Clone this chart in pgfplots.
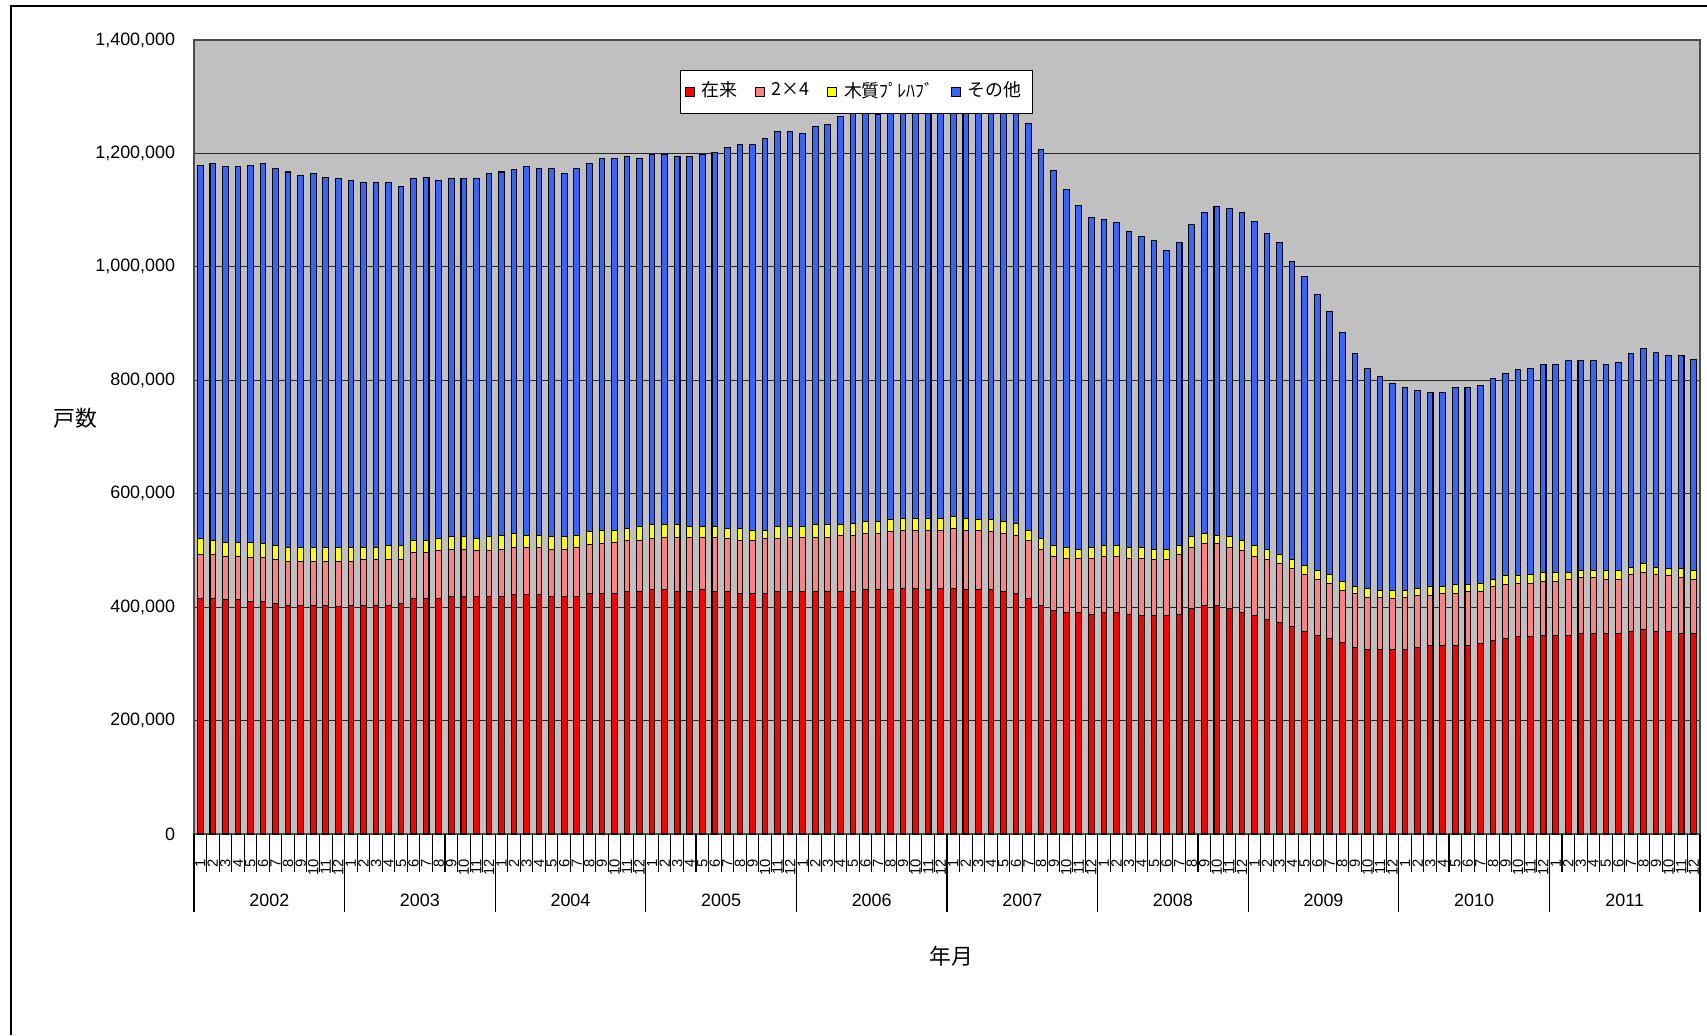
\documentclass[border=0pt]{standalone}
\usepackage{fontspec}
\setmainfont{Liberation Sans}
\newfontfamily\jp{Noto Sans CJK JP}
\usepackage{pgfplots}
\usepackage{pgfplotstable}
\pgfplotsset{compat=1.18}
\definecolor{cRed}{HTML}{FF0000}
\definecolor{cPink}{HTML}{FF8080}
\definecolor{cYel}{HTML}{FFFF00}
\definecolor{cBlue}{HTML}{3366FF}
\definecolor{cBack}{HTML}{C0C0C0}

\pgfplotstableread{
m red pink yellow blue
1 415300 77000 28200 659000
2 415900 76400 25300 664900
3 412900 76400 25300 662000
4 412900 76400 25300 662000
5 409400 78200 27000 664900
6 410000 77000 24700 670800
7 405900 77600 24700 664900
8 403500 77000 24700 662100
9 403500 77000 24700 655600
10 403500 77000 24700 659100
11 403500 77000 24700 652700
12 401200 79400 24700 649800
13 403500 77000 24700 646800
14 403500 80000 21800 643300
15 403500 80000 21800 643300
16 403500 80000 24700 640300
17 405900 77600 24700 633900
18 415900 80500 21200 637400
19 415900 80500 21200 640300
20 415900 84100 20600 631500
21 418800 83500 21800 631000
22 418800 83500 21800 631000
23 418800 81100 20600 634500
24 418800 80500 24700 640300
25 418800 83500 24700 640300
26 421800 83500 24700 640900
27 421800 83500 21800 649600
28 421800 83500 21800 646100
29 418800 83500 21800 649100
30 418800 83500 21800 640300
31 418800 86400 21800 646100
32 424700 86400 21800 649600
33 424700 87000 24100 656000
34 424700 89900 21200 656000
35 427600 89900 21200 656000
36 427600 89900 24700 649500
37 430600 89900 24700 652500
38 430600 92900 21800 652500
39 427600 95800 21800 649500
40 427600 95800 18800 652400
41 430600 92900 18800 655400
42 427600 95800 18800 658900
43 427600 92900 18200 671800
44 424700 92900 21200 677700
45 424700 92900 18200 680600
46 424700 95800 15300 689900
47 427600 92900 21800 695700
48 427600 95800 18800 695700
49 427600 95800 18800 692800
50 427600 95800 21800 702200
51 427600 95800 21800 705100
52 427600 99400 18200 720300
53 427600 99400 21200 723200
54 430600 99400 21200 727300
55 430600 99400 21200 717900
56 430600 102300 21200 717300
57 433500 102300 20600 718500
58 433500 102300 20600 722000
59 430600 105200 20600 724300
60 433500 102300 20600 729600
61 433500 105200 21200 728100
62 430600 105200 21200 723700
63 430600 105200 18200 735000
64 430600 102300 21200 733000
65 427600 101700 21800 720200
66 424700 102300 21200 730300
67 415900 101700 18200 717400
68 402900 99400 18200 686500
69 393500 95800 18800 662000
70 390600 95800 18800 631100
71 390600 95800 15900 606500
72 387700 98800 18800 581900
73 390600 98800 18800 575400
74 390600 98800 18800 569600
75 387700 98800 18800 557400
76 384700 101700 18800 548000
77 384700 98800 18800 544500
78 384700 98800 18800 525800
79 387700 104600 15900 535100
80 397100 108200 18800 550300
81 402900 108800 18200 566600
82 402900 108800 15300 578800
83 397100 108200 18800 578300
84 390600 108800 18200 578900
85 384700 104600 18800 572600
86 378200 105200 18800 556800
87 372400 104600 15900 550400
88 365900 101700 15900 526400
89 356500 101700 15900 508400
90 350600 98200 15900 486800
91 344700 97600 15900 462300
92 338300 91700 15900 437700
93 329400 95200 11800 410400
94 325900 91700 15900 388100
95 325900 91700 12300 376400
96 325900 88800 15300 364200
97 325900 91700 12300 357700
98 329400 91700 12300 347800
99 332400 88800 15300 342000
100 332400 92300 11800 342000
101 332400 92300 14700 348300
102 332400 94700 12300 348300
103 335300 91700 15300 348300
104 341200 95200 12300 354700
105 344700 94700 15900 357500
106 347700 94700 12900 363400
107 347700 94700 15900 363300
108 350600 95200 15300 367000
109 350600 95200 15300 367000
110 350600 98200 12300 373400
111 353600 98200 12900 369800
112 353600 98200 12900 369800
113 353600 95200 15900 363400
114 353600 95200 15900 366300
115 356500 101700 12300 376300
116 360000 101100 15900 378600
117 356500 101700 12300 379200
118 356500 98800 12300 375700
119 353600 98200 15900 375600
120 353600 95200 15900 372700
}\data

\begin{document}
\begin{tikzpicture}
\useasboundingbox (-19.4mm,-20.1mm) rectangle (151.3mm,83.4mm);
\draw[line width=0.4pt] (-18.3mm,-20.1mm) -- (-18.3mm,82.8mm) -- (151.3mm,82.8mm);
\begin{axis}[
  at={(0,0)}, anchor=south west,
  scale only axis, width=150.6mm, height=79.4mm,
  ybar stacked, bar width=0.45,
  xmin=0.5, xmax=120.5, ymin=0, ymax=1400000,
  clip=false,
  axis background/.style={fill=cBack},
  axis line style={black!70, line width=0.5pt},
  ytick={0,200000,400000,600000,800000,1000000,1200000,1400000},
  scaled y ticks=false,
  ymajorgrids, grid style={black!85, line width=0.35pt},
  yticklabel style={font=\fontsize{5.1}{6}\selectfont,
    /pgf/number format/.cd, fixed, precision=0, 1000 sep={,}, assume math mode=true},
  yticklabel shift=0.65mm,
  xtick={1,...,120},
  major tick length=0pt,
  tick align=outside,
  xtick pos=bottom, ytick pos=left,
  xticklabel={\pgfmathtruncatemacro\mm{mod(\tick+11.01,12)+1}\mm},
  xticklabel style={rotate=90, anchor=east, font=\fontsize{4.2}{5}\selectfont},
  xticklabel shift=1.3mm,
  ylabel={\jp 戸数},
  ylabel style={rotate=-90, at={(axis description cs:-0.079,0.524)}, anchor=center, font=\fontsize{6.2}{7}\selectfont},
  xlabel={\jp 年月},
  xlabel style={at={(axis description cs:0.503,-0.154)}, anchor=center, font=\fontsize{6.2}{7}\selectfont},
  legend style={at={(axis description cs:0.44,0.9345)}, anchor=center, legend columns=4,
    draw=black, line width=0.35pt, fill=white, inner sep=0.4mm,
    font=\jp\fontsize{5.1}{6}\selectfont,
    /tikz/every even column/.append style={column sep=1.0mm}},
  legend image code/.code={\draw[#1, draw=black, line width=0.35pt] (0mm,-0.45mm) rectangle (0.9mm,0.45mm);},
]
\addplot[fill=cRed, draw=black, line width=0.3pt] table[x=m, y=red] {\data};
\addplot[fill=cPink, draw=black, line width=0.3pt] table[x=m, y=pink] {\data};
\addplot[fill=cYel, draw=black, line width=0.3pt] table[x=m, y=yellow] {\data};
\addplot[fill=cBlue, draw=black, line width=0.3pt] table[x=m, y=blue] {\data};
\legend{在来, 2×4, 木質ﾌﾟﾚﾊﾌﾞ, その他}
\pgfplotsinvokeforeach{1.5,2.5,...,119.5}{
  \draw[black, line width=0.3pt] (axis cs:#1,0) -- ++(0pt,-3.8mm);
}
\pgfplotsinvokeforeach{0.5,12.5,24.5,36.5,48.5,60.5,72.5,84.5,96.5,108.5,120.5}{
  \draw[black, line width=0.35pt] (axis cs:#1,0) -- ++(0pt,-7.8mm);
}
\node[font=\fontsize{5.1}{6}\selectfont] at ([yshift=-6.6mm]axis cs:6.5,0) {2002};
\node[font=\fontsize{5.1}{6}\selectfont] at ([yshift=-6.6mm]axis cs:18.5,0) {2003};
\node[font=\fontsize{5.1}{6}\selectfont] at ([yshift=-6.6mm]axis cs:30.5,0) {2004};
\node[font=\fontsize{5.1}{6}\selectfont] at ([yshift=-6.6mm]axis cs:42.5,0) {2005};
\node[font=\fontsize{5.1}{6}\selectfont] at ([yshift=-6.6mm]axis cs:54.5,0) {2006};
\node[font=\fontsize{5.1}{6}\selectfont] at ([yshift=-6.6mm]axis cs:66.5,0) {2007};
\node[font=\fontsize{5.1}{6}\selectfont] at ([yshift=-6.6mm]axis cs:78.5,0) {2008};
\node[font=\fontsize{5.1}{6}\selectfont] at ([yshift=-6.6mm]axis cs:90.5,0) {2009};
\node[font=\fontsize{5.1}{6}\selectfont] at ([yshift=-6.6mm]axis cs:102.5,0) {2010};
\node[font=\fontsize{5.1}{6}\selectfont] at ([yshift=-6.6mm]axis cs:114.5,0) {2011};
\end{axis}
\end{tikzpicture}
\end{document}
